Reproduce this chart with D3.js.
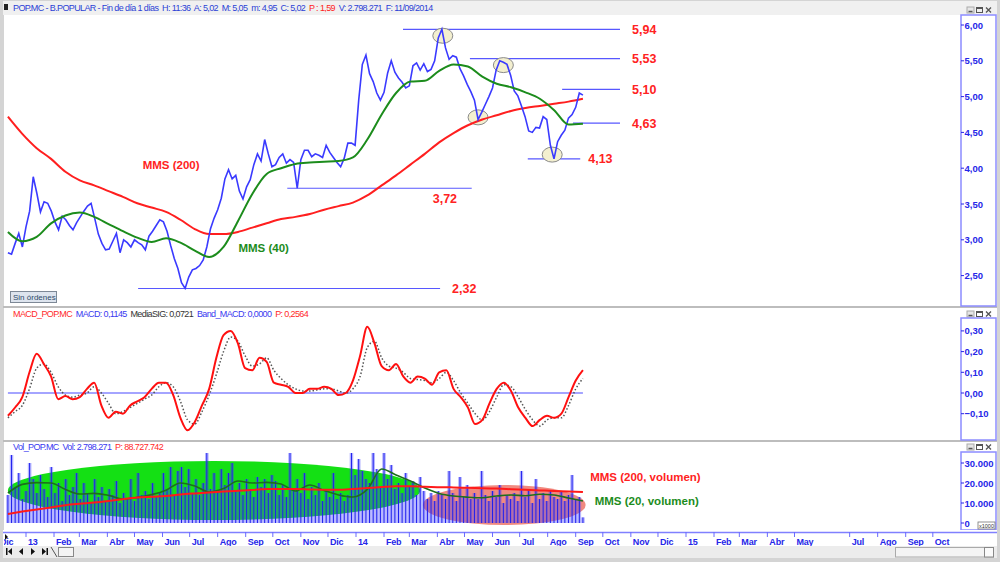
<!DOCTYPE html>
<html>
<head>
<meta charset="utf-8">
<title>POP.MC - B.POPULAR</title>
<script src="https://cdn.jsdelivr.net/npm/d3@7"></script>
<style>
body { margin:0; background:#d4d4d4; }
svg { display:block; font-family:"Liberation Sans", Arial, sans-serif; }
.pre { white-space:pre; }
</style>
</head>
<body>
<div id="chart"></div>
<script>
// ---- data ----
var startDate = new Date(2012, 11, 12), endDate = new Date(2014, 8, 9);

// close, one value every 4 days
var prices = [
 2.82,2.80,2.95,3.09,2.90,3.18,3.40,3.88,3.65,3.39,
 3.53,3.51,3.40,3.25,3.14,3.33,3.28,3.20,3.14,3.24,
 3.32,3.40,3.47,3.51,3.30,3.08,2.95,2.86,2.87,2.98,
 3.09,2.82,3.00,2.96,2.90,3.00,2.96,2.93,2.86,3.05,
 3.12,3.20,3.28,3.25,3.12,2.92,2.74,2.60,2.40,2.32,
 2.48,2.58,2.60,2.64,2.72,2.90,3.15,3.30,3.42,3.58,
 3.85,3.98,3.85,3.90,3.68,3.57,3.74,3.84,4.05,4.20,
 4.10,4.40,4.20,4.02,4.05,4.15,4.20,4.07,4.12,4.08,
 3.72,4.12,4.25,4.25,4.16,4.20,4.18,4.15,4.32,4.22,
 4.15,4.08,4.02,4.14,4.35,4.35,4.32,4.95,5.45,5.58,
 5.32,5.21,5.05,4.95,5.06,5.33,5.50,5.34,5.26,5.20,
 5.12,5.15,5.43,5.47,5.37,5.46,5.35,5.38,5.50,5.82,
 5.94,5.68,5.52,5.57,5.55,5.39,5.29,5.17,5.07,4.95,
 4.68,4.78,4.89,5.00,5.12,5.37,5.50,5.48,5.45,5.30,
 5.08,5.01,4.87,4.72,4.52,4.50,4.57,4.56,4.72,4.68,
 4.32,4.13,4.37,4.46,4.53,4.70,4.75,4.85,5.05,5.02
];
// moving averages, 41 points from start to end
var mms40 = [3.11,2.98,3.04,3.23,3.34,3.38,3.32,3.22,3.12,3.03,2.97,3.02,2.96,2.85,2.76,2.90,3.26,3.64,3.92,4.00,
 4.06,4.08,4.09,4.10,4.15,4.40,4.75,5.05,5.21,5.22,5.36,5.45,5.42,5.28,5.18,5.13,5.06,4.97,4.81,4.61,4.62];
var mms200 = [4.72,4.48,4.28,4.13,3.95,3.83,3.76,3.68,3.60,3.51,3.45,3.39,3.28,3.15,3.08,3.08,3.11,3.17,3.23,3.29,
 3.32,3.36,3.42,3.47,3.52,3.62,3.76,3.90,4.05,4.20,4.36,4.49,4.60,4.68,4.74,4.80,4.84,4.87,4.90,4.93,4.97];

// MACD and signal, one value every 8 days
var macd = [-0.11,-0.07,-0.02,0.10,0.19,0.14,0.08,-0.03,-0.015,-0.03,
 -0.02,0.02,0.05,-0.06,-0.12,-0.09,-0.10,-0.06,-0.04,-0.02,
 0.02,0.05,0.05,-0.01,-0.12,-0.18,-0.14,-0.06,0.02,0.17,
 0.28,0.30,0.24,0.12,0.11,0.17,0.15,0.05,0.04,0.03,
 0.00,0.00,0.02,0.02,0.03,0.02,-0.01,0.00,0.06,0.18,
 0.32,0.24,0.13,0.11,0.14,0.08,0.05,0.08,0.07,0.04,
 0.10,0.11,0.02,-0.02,-0.07,-0.15,-0.13,-0.05,0.02,0.05,
 0.01,-0.07,-0.12,-0.16,-0.13,-0.11,-0.12,-0.10,-0.02,0.06,0.11];
var macdSig = [-0.12,-0.09,-0.06,0.02,0.12,0.14,0.10,0.03,-0.01,-0.02,
 -0.01,0.00,0.03,0.00,-0.05,-0.10,-0.09,-0.07,-0.05,-0.03,
 -0.01,0.03,0.05,0.03,-0.04,-0.13,-0.15,-0.09,-0.01,0.09,
 0.20,0.27,0.25,0.18,0.13,0.14,0.17,0.11,0.07,0.04,
 0.02,0.01,0.01,0.015,0.02,0.02,0.01,0.00,0.02,0.08,
 0.22,0.25,0.17,0.13,0.12,0.10,0.07,0.065,0.06,0.05,
 0.07,0.10,0.06,0.00,-0.05,-0.10,-0.13,-0.09,-0.02,0.04,
 0.03,-0.02,-0.08,-0.13,-0.16,-0.13,-0.12,-0.12,-0.06,0.02,0.07];

// volume (x1000), one value every 4 days
var volume = [
 14000,34000,18000,25000,12000,16000,30000,22000,15000,24000,
 17000,13000,28000,15000,20000,11000,22000,14000,18000,25000,
 12000,20000,15000,10000,22000,13000,18000,11000,17000,14000,
 21000,10000,15000,12000,22000,11000,25000,14000,16000,12000,
 20000,13000,15000,25000,17000,28000,14000,26000,28000,18000,
 27000,15000,22000,14000,20000,35000,17000,25000,16000,27000,
 19000,25000,30000,16000,20000,14000,22000,17000,13000,23000,
 18000,22000,15000,24000,21000,14000,19000,13000,35000,16000,
 22000,15000,25000,12000,18000,14000,20000,11000,16000,13000,
 25000,12000,15000,11000,14000,35000,24000,32000,26000,22000,
 20000,35000,27000,18000,35000,22000,29000,17000,20000,15000,
 25000,18000,21000,14000,23000,16000,12000,15000,11000,16000,
 14000,12000,26000,15000,11000,23000,13000,19000,12000,15000,
 12000,26000,14000,11000,16000,13000,19000,10000,14000,12000,
 15000,11000,26000,13000,17000,10000,22000,12000,15000,11000,
 16000,13000,12000,16000,11000,14000,24000,12000,13000,2800
];
var volMms20 = [15000,19300,20200,20000,16800,14500,14800,13800,12000,12800,14200,16400,20000,18500,15500,17200,
 21000,20000,20300,19500,16000,19000,16300,14000,13000,16800,27000,24000,21000,17500,14800,13500,12900,12600,
 13500,14000,13600,14400,14000,12500,11000];
var volMms200 = [4500,5700,6800,7800,8900,9600,10200,11000,11900,12700,13100,13500,14300,14800,15200,15700,
 16100,16500,17000,17000,17000,16800,16600,16600,17000,17500,18000,18400,18400,18100,17900,17800,17600,17400,
 17200,16900,16600,16300,16000,15800,15500];

// support / resistance levels drawn by hand
var levels    = [5.94, 5.53, 5.10, 4.63, 4.13, 3.72, 2.32];
var levelFrom = ["2014-02-22","2014-05-07","2014-08-17","2014-08-29","2014-07-10","2013-10-17","2013-05-05"];
var levelTo   = ["2014-10-20","2014-10-20","2014-10-20","2014-10-20","2014-09-06","2014-05-09","2014-04-04"];
// circled turning points
var markDates  = ["2014-04-07","2014-06-13","2014-05-16","2014-08-06"];
var markPrices = [5.85, 5.44, 4.71, 4.19];

var priceTicks = [2, 2.5, 3, 3.5, 4, 4.5, 5, 5.5, 6];
var macdTicks = [-0.1, 0, 0.1, 0.2, 0.3];
var volTicks = [0, 10000, 20000, 30000];
var monthNames = ["Ene","Feb","Mar","Abr","May","Jun","Jul","Ago","Sep","Oct","Nov","Dic"];

// ---- layout ----
var W = 1000, H = 562, plotL = 4, plotR = 960, axL = 961, axW = 35;
var parse = d3.timeParse("%Y-%m-%d");
var blue = "#2626e8", lineBlue = "#3a3aff";

function evenDates(n) {
  return d3.range(n).map(function(i) { return new Date(+startDate + (endDate - startDate) * i / (n - 1)); });
}
var dP = evenDates(prices.length), dM = evenDates(mms40.length), dC = evenDates(macd.length);

var x = d3.scaleTime().domain([new Date(2013,0,1), new Date(2015,0,1)]).range([26, 686]);
var yP = d3.scaleLinear().domain([2, 6]).range([311.4, 25]);
var yC = d3.scaleLinear().domain([-0.2, 0.35]).range([434.4, 320.55]);
var yV = d3.scaleLinear().domain([0, 35000]).range([523, 453]);

var comma = function(v, f) { return d3.format(f)(v).replace(/,/g, "#").replace(".", ",").replace(/#/g, "."); };

var svg = d3.select("#chart").append("svg").attr("width", W).attr("height", H);
svg.append("rect").attr("width", W).attr("height", H).attr("fill", "#d4d4d4");
svg.append("rect").attr("x", 3).attr("y", 1).attr("width", 994).attr("height", 14).attr("fill", "#f0f0f0");

var panels = [{top:15, bottom:306, axTop:15, btn:6}, {top:308, bottom:440, axTop:318, btn:310}, {top:442, bottom:530, axTop:452, btn:443}];
var defs = svg.append("defs");
panels.forEach(function(p, i) {
  svg.append("rect").attr("x", plotL).attr("y", p.top).attr("width", 993).attr("height", p.bottom - p.top).attr("fill", "#fff");
  defs.append("clipPath").attr("id", "clip" + i).append("rect")
    .attr("x", plotL).attr("y", p.top).attr("width", plotR - plotL).attr("height", p.bottom - p.top);
  defs.append("clipPath").attr("id", "aclip" + i).append("rect")
    .attr("x", axL).attr("y", p.axTop).attr("width", axW).attr("height", p.bottom - p.axTop);
  // little window buttons
  var b = svg.append("g").attr("fill", "none").attr("stroke", "#555").attr("stroke-width", 1);
  b.append("rect").attr("x", 967).attr("y", p.btn + 1).attr("width", 7).attr("height", 6).attr("fill", "#e6e6e6").attr("stroke", "#aaa");
  b.append("line").attr("x1", 968.5).attr("x2", 972.5).attr("y1", p.btn + 5.5).attr("y2", p.btn + 5.5).attr("stroke-width", 1.5);
  b.append("rect").attr("x", 976.5).attr("y", p.btn + 1.5).attr("width", 6).attr("height", 5);
  b.append("line").attr("x1", 976.5).attr("x2", 982.5).attr("y1", p.btn + 2).attr("y2", p.btn + 2).attr("stroke-width", 2);
  b.append("path").attr("d", "M986," + (p.btn + 1.5) + "l5,5M991," + (p.btn + 1.5) + "l-5,5").attr("stroke-width", 1.3);
});
// separators
[306, 440].forEach(function(y) {
  svg.append("rect").attr("x", 3).attr("y", y).attr("width", 994).attr("height", 2).attr("fill", "#bdbdbd");
});

// value axes on the right
function rightAxis(p, i, scale, ticks, fmt) {
  svg.append("rect").attr("x", axL).attr("y", p.axTop).attr("width", axW).attr("height", p.bottom - p.axTop)
    .attr("fill", "#fff").attr("stroke", "#8c8cff").attr("stroke-width", 1.5);
  var g = svg.append("g").attr("clip-path", "url(#aclip" + i + ")");
  ticks.forEach(function(t) {
    g.append("line").attr("x1", axL).attr("x2", axL + 3).attr("y1", scale(t)).attr("y2", scale(t)).attr("stroke", blue);
    g.append("text").attr("x", axL + 3.5).attr("y", scale(t) + 3.5).attr("fill", blue)
      .attr("font-size", 9.5).attr("font-weight", "bold").text(fmt(t));
  });
}
rightAxis(panels[0], 0, yP, priceTicks, function(v) { return comma(v, ".2f"); });
rightAxis(panels[1], 1, yC, macdTicks, function(v) { return comma(v, ".2f"); });
rightAxis(panels[2], 2, yV, volTicks, function(v) { return comma(v, ","); });
svg.append("rect").attr("x", 978).attr("y", 522).attr("width", 17).attr("height", 7).attr("fill", "#fff").attr("stroke", "#777").attr("stroke-width", 0.8);
svg.append("text").attr("x", 979).attr("y", 528).attr("font-size", 5.5).attr("fill", "#333").text("x1000");

// ---- header texts ----
function header(y, parts) {
  var t = svg.append("text").attr("class", "pre").attr("x", 13).attr("y", y).attr("font-size", 9)
    .attr("letter-spacing", -0.62);
  parts.forEach(function(p) { t.append("tspan").attr("fill", p[1]).text(p[0]); });
}
svg.append("rect").attr("x", 4).attr("y", 4).attr("width", 4).attr("height", 6).attr("fill", "#222");
header(11, [["POP.MC - B.POPULAR - Fin de día 1 días  H: 11:36  A: 5,02  M: 5,05  m: 4,95  C: 5,02  ", "#2b3fd6"],
            ["P : 1,59", "#ff2020"], ["  V: 2.798.271  F: 11/09/2014", "#2b3fd6"]]);
header(317, [["MACD_POP.MC  ", "#ff2a2a"], ["MACD: 0,1145  ", "#3a3af0"], ["MediaSIG: 0,0721  ", "#333"],
             ["Band_MACD: 0,0000  ", "#3a3af0"], ["P: 0,2564", "#ff2a2a"]]);
header(450, [["Vol_POP.MC  Vol: 2.798.271  ", "#3a3af0"], ["P: 88.727.742", "#ff2a2a"]]);

// ---- main price panel ----
var g0 = svg.append("g").attr("clip-path", "url(#clip0)");
levels.forEach(function(lv, i) {
  g0.append("line").attr("x1", x(parse(levelFrom[i]))).attr("x2", x(parse(levelTo[i])))
    .attr("y1", yP(lv)).attr("y2", yP(lv)).attr("stroke", "#5757ff").attr("stroke-width", 1.2);
});
markDates.forEach(function(d, i) {
  g0.append("ellipse").attr("cx", x(parse(d))).attr("cy", yP(markPrices[i])).attr("rx", 10).attr("ry", 7.5)
    .attr("fill", "#f3efcf").attr("stroke", "#8a8a8a").attr("stroke-width", 1);
});
var lineP = d3.line().x(function(d, i) { return x(dP[i]); }).y(function(d) { return yP(d); });
var lineM = d3.line().curve(d3.curveMonotoneX).x(function(d, i) { return x(dM[i]); }).y(function(d) { return yP(d); });
g0.append("path").attr("d", lineM(mms200)).attr("fill", "none").attr("stroke", "#ff1f1f").attr("stroke-width", 2);
g0.append("path").attr("d", lineP(prices)).attr("fill", "none").attr("stroke", lineBlue).attr("stroke-width", 1.6);
g0.append("path").attr("d", lineM(mms40)).attr("fill", "none").attr("stroke", "#1c8c1c").attr("stroke-width", 2);

levels.forEach(function(lv, i) {
  var xe = x(parse(levelTo[i])), tx = xe + 12, ty = yP(lv) + 4.5;
  if (lv === 4.13) tx = xe + 8;
  if (lv === 3.72) { tx = xe - 39; ty = yP(lv) + 15; }
  g0.append("text").attr("x", tx).attr("y", ty).attr("fill", "#ff2222").attr("font-size", 12.5)
    .attr("font-weight", "bold").text(comma(lv, ".2f"));
});
g0.append("text").attr("x", x(parse("2013-05-10"))).attr("y", yP(3.99)).attr("fill", "#ff2222")
  .attr("font-size", 11.5).attr("font-weight", "bold").text("MMS (200)");
g0.append("text").attr("x", x(parse("2013-08-24"))).attr("y", yP(2.83)).attr("fill", "#1c8c1c")
  .attr("font-size", 11.5).attr("font-weight", "bold").text("MMS (40)");
svg.append("rect").attr("x", 10.5).attr("y", 291.5).attr("width", 46).attr("height", 11)
  .attr("fill", "#dde4ee").attr("stroke", "#7d8896");
svg.append("text").attr("x", 13).attr("y", 300).attr("font-size", 8).attr("fill", "#2d4a6a").text("Sin órdenes");

// ---- MACD panel ----
var g1 = svg.append("g").attr("clip-path", "url(#clip1)");
g1.append("line").attr("x1", x(startDate)).attr("x2", x(endDate)).attr("y1", yC(0)).attr("y2", yC(0))
  .attr("stroke", "#4a4aff").attr("stroke-width", 1.2);
var lineC = d3.line().curve(d3.curveMonotoneX).x(function(d, i) { return x(dC[i]); }).y(function(d) { return yC(d); });
g1.append("path").attr("d", lineC(macdSig)).attr("fill", "none").attr("stroke", "#555")
  .attr("stroke-width", 1.5).attr("stroke-dasharray", "1.5,2");
g1.append("path").attr("d", lineC(macd)).attr("fill", "none").attr("stroke", "#ff1010").attr("stroke-width", 2);

// ---- volume panel ----
var g2 = svg.append("g").attr("clip-path", "url(#clip2)");
function blob(d0, d1, v0, v1, col) {
  var x0 = x(parse(d0)), x1 = x(parse(d1));
  g2.append("ellipse").attr("cx", (x0 + x1) / 2).attr("cy", (yV(v0) + yV(v1)) / 2)
    .attr("rx", (x1 - x0) / 2).attr("ry", Math.abs(yV(v0) - yV(v1)) / 2).attr("fill", col);
}
blob("2012-12-12", "2014-03-13", 1500, 31000, "#14e014");
blob("2014-03-16", "2014-09-12", -1000, 19000, "#f08a80");
var bw = x(dP[1]) - x(dP[0]);
g2.selectAll(".vb").data(volume).enter().append("rect")
  .attr("x", function(d, i) { return x(dP[i]) - bw / 2; }).attr("width", bw)
  .attr("y", function(d) { return yV(d); }).attr("height", function(d) { return yV(0) - yV(d); })
  .attr("fill", "#4040ff").attr("fill-opacity", 0.38);
g2.selectAll(".vl").data(volume).enter().append("line")
  .attr("x1", function(d, i) { return x(dP[i]); }).attr("x2", function(d, i) { return x(dP[i]); })
  .attr("y1", function(d) { return yV(d); }).attr("y2", yV(0))
  .attr("stroke", "#1f1fee").attr("stroke-width", 1);
var lineV = d3.line().curve(d3.curveMonotoneX).x(function(d, i) { return x(dM[i]); }).y(function(d) { return yV(d); });
g2.append("path").attr("d", lineV(volMms20)).attr("fill", "none").attr("stroke", "#1e6e1e").attr("stroke-width", 1.6);
g2.append("path").attr("d", lineV(volMms200)).attr("fill", "none").attr("stroke", "#ff1a1a").attr("stroke-width", 2);
svg.append("text").attr("x", x(parse("2014-09-17"))).attr("y", yV(21000)).attr("fill", "#ff2222")
  .attr("font-size", 11.5).attr("font-weight", "bold").text("MMS (200, volumen)");
svg.append("text").attr("x", x(parse("2014-09-22"))).attr("y", yV(9000)).attr("fill", "#1c8c1c")
  .attr("font-size", 11.5).attr("font-weight", "bold").text("MMS (20, volumen)");

// ---- date axis ----
svg.append("rect").attr("x", 3).attr("y", 530).attr("width", 994).attr("height", 16).attr("fill", "#fff");
svg.append("line").attr("x1", 3).attr("x2", 997).attr("y1", 532.5).attr("y2", 532.5).attr("stroke", "#8080ff").attr("stroke-width", 1.5);
defs.append("clipPath").attr("id", "dclip").append("rect").attr("x", 4).attr("y", 530).attr("width", 992).attr("height", 16);
var gd = svg.append("g").attr("clip-path", "url(#dclip)");
d3.timeMonth.range(new Date(2012, 11, 1), new Date(2015, 10, 1)).forEach(function(m) {
  if (m.getFullYear() === 2015 && m.getMonth() === 5) return; // no Jun label there
  var xm = x(m);
  gd.append("line").attr("x1", xm).attr("x2", xm).attr("y1", 532).attr("y2", 537).attr("stroke", "#6a6aff");
  gd.append("text").attr("x", xm + 2).attr("y", 544.5).attr("fill", blue).attr("font-size", 9).attr("font-weight", "bold")
    .attr("letter-spacing", -0.2)
    .text(m.getMonth() === 0 ? String(m.getFullYear()).slice(2) : monthNames[m.getMonth()]);
});
svg.append("path").attr("d", "M5,534l3,3l-3,3z").attr("fill", "#111");

// bottom bar with navigation buttons
svg.append("rect").attr("x", 3).attr("y", 546).attr("width", 994).attr("height", 12).attr("fill", "#ececec");
var nav = svg.append("g").attr("fill", "#111");
nav.append("rect").attr("x", 6).attr("y", 548).attr("width", 1.5).attr("height", 7);
nav.append("path").attr("d", "M8,551.5l4,-3.5v7z");
nav.append("path").attr("d", "M19,551.5l4,-3.5v7z");
nav.append("path").attr("d", "M31,548v7l4,-3.5z");
nav.append("path").attr("d", "M42,548v7l4,-3.5z");
nav.append("rect").attr("x", 46.5).attr("y", 548).attr("width", 1.5).attr("height", 7);
svg.append("path").attr("d", "M51,547l6,10").attr("stroke", "#555").attr("fill", "none");
svg.append("rect").attr("x", 58.5).attr("y", 547.5).attr("width", 15).attr("height", 9).attr("fill", "#f4f4f4").attr("stroke", "#888");
nav.append("path").attr("d", "M64,552l3,-2.5v5z");
svg.append("rect").attr("x", 895.5).attr("y", 547.5).attr("width", 98).attr("height", 9.5).attr("fill", "#f4f4f4").attr("stroke", "#aaa");
svg.append("rect").attr("x", 984.5).attr("y", 547.5).attr("width", 9).attr("height", 9.5).attr("fill", "#fafafa").attr("stroke", "#888");
nav.append("path").attr("d", "M987.5,549.5v5l3,-2.5z");
</script>
</body>
</html>
